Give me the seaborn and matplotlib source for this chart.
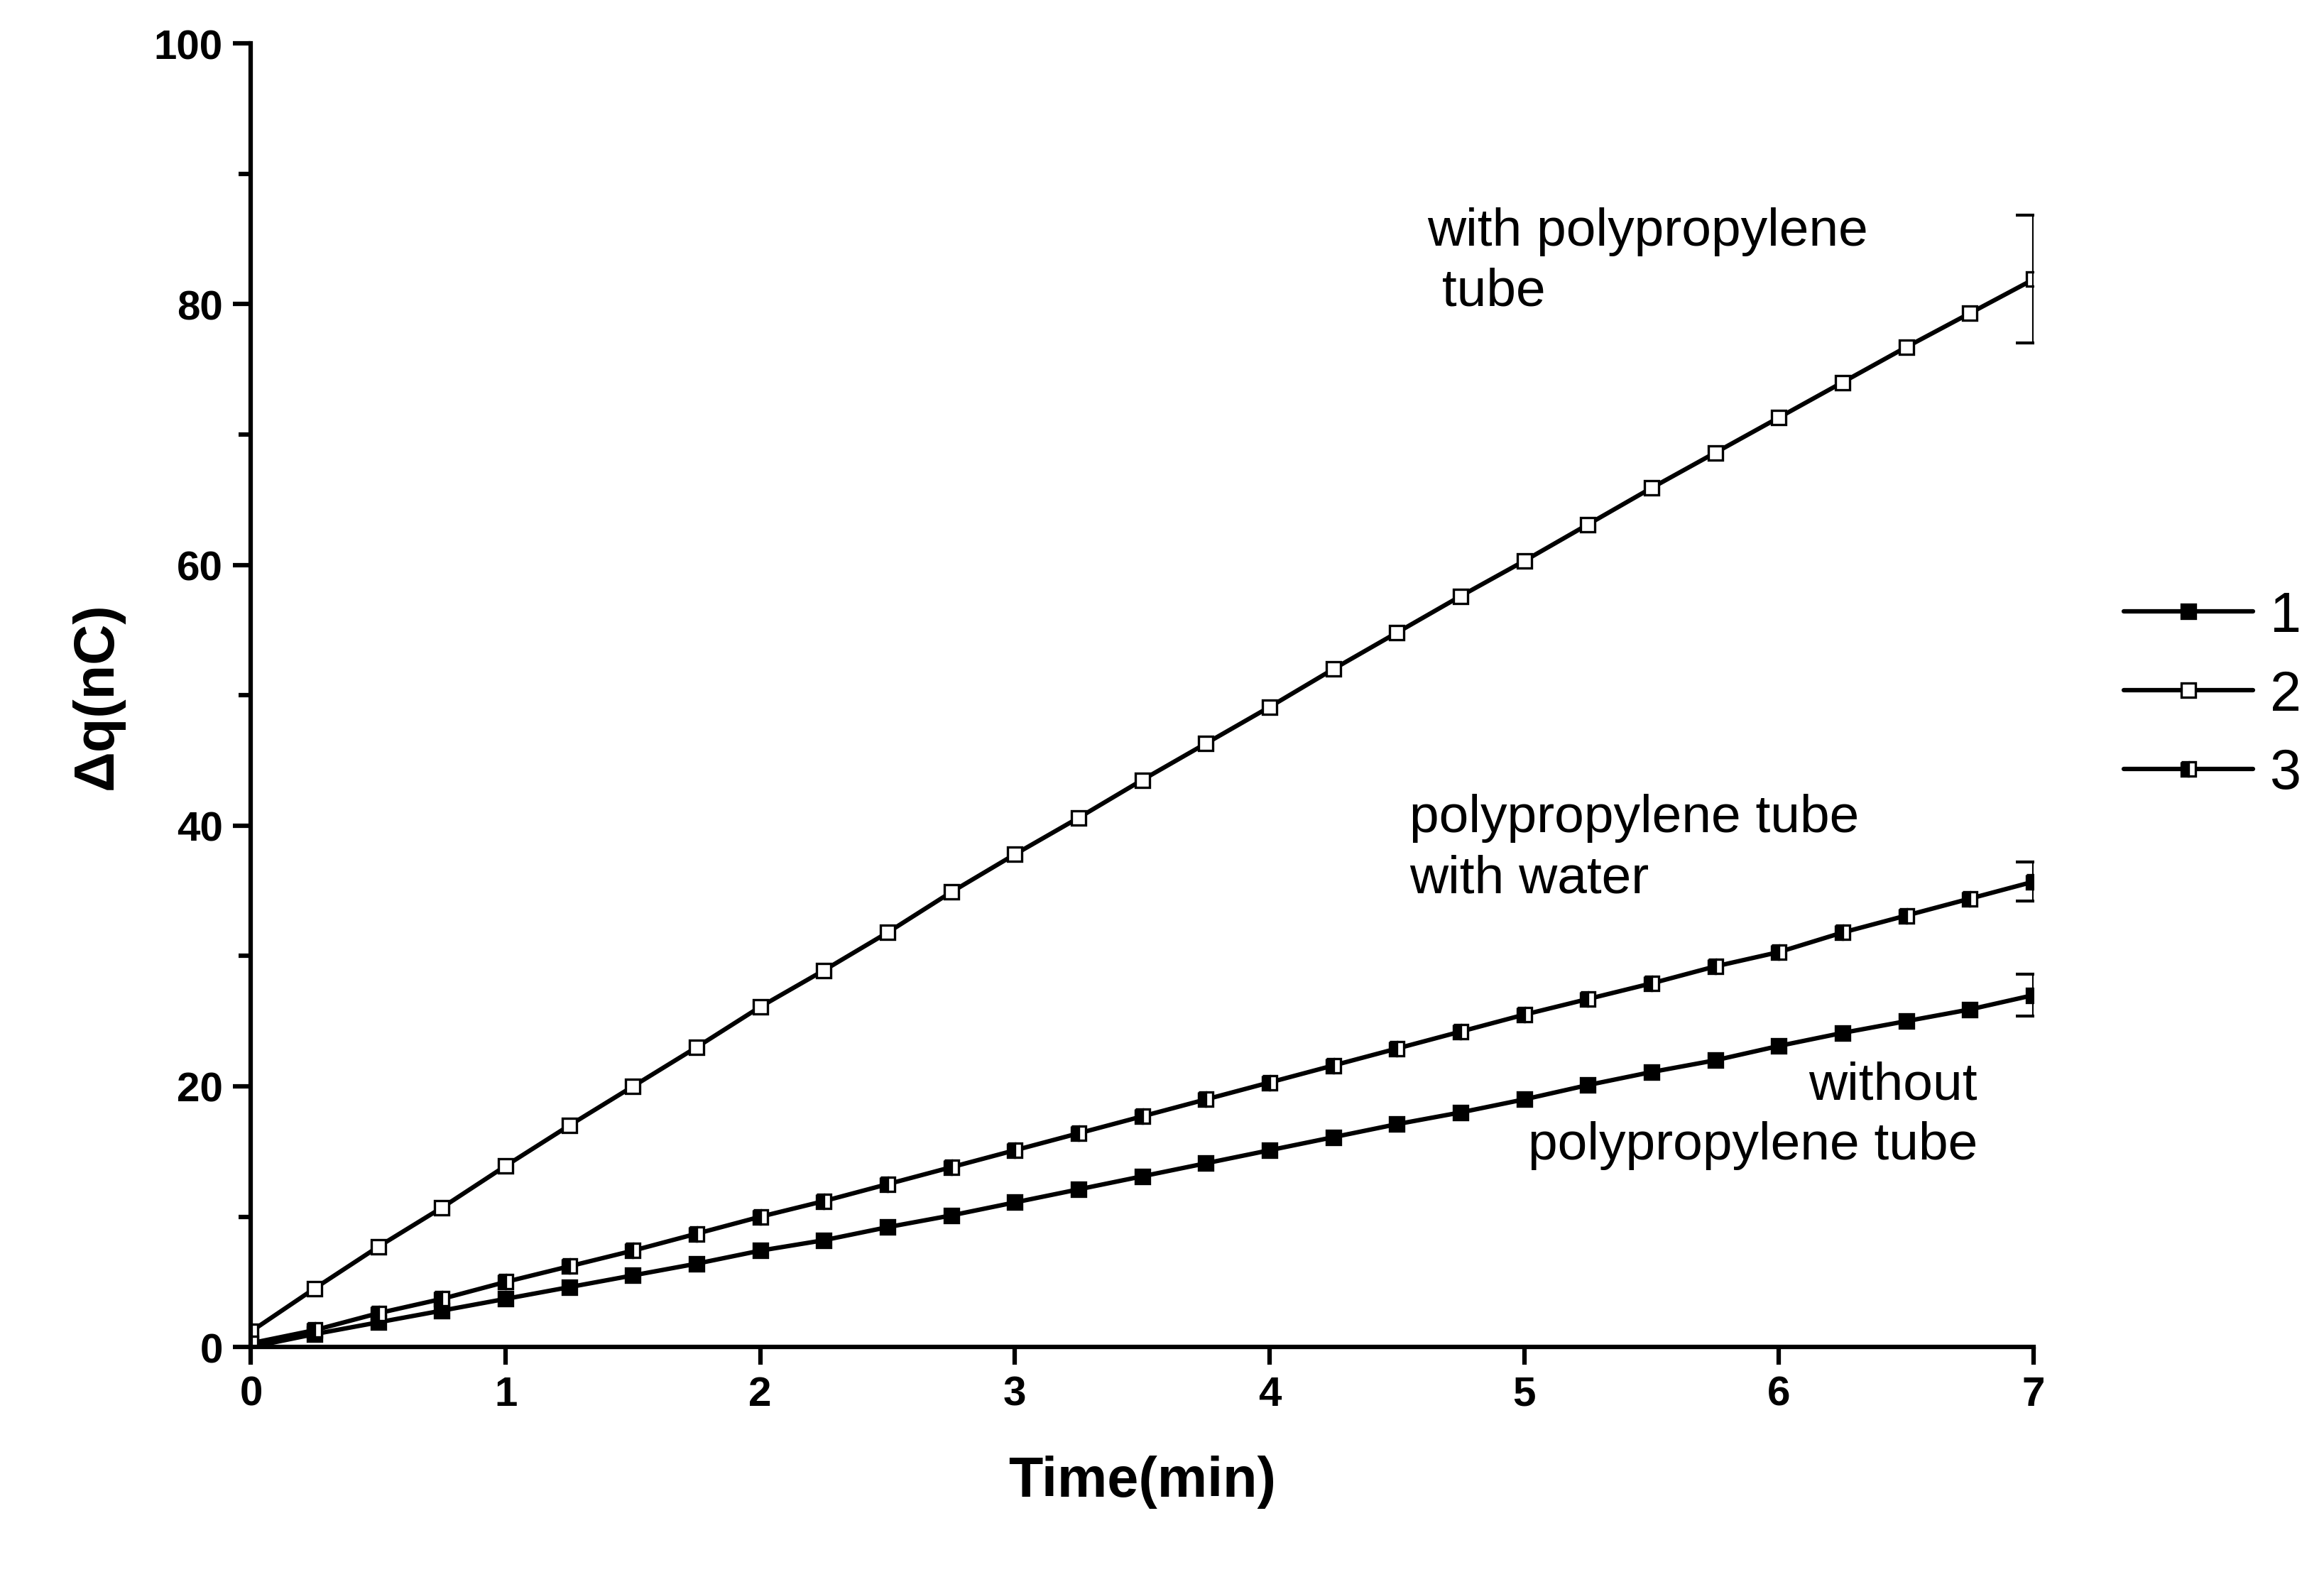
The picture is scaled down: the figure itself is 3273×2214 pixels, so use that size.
import numpy as np
import pandas as pd
import matplotlib
matplotlib.use("Agg")
import matplotlib.pyplot as plt
import seaborn as sns
from matplotlib.ticker import MultipleLocator

time_min = [i * 0.25 for i in range(29)]
s1 = [0, 1.0, 1.9, 2.8, 3.7, 4.6, 5.5, 6.4, 7.4, 8.2, 9.2, 10.1, 11.1, 12.1, 13.1,
      14.1, 15.1, 16.1, 17.1, 18.0, 19.0, 20.1, 21.1, 22.0, 23.1, 24.1, 25.0, 25.9, 27.0]
s2 = [1.2, 4.5, 7.7, 10.7, 13.9, 17.0, 20.0, 23.0, 26.1, 28.9, 31.8, 34.9, 37.8, 40.6, 43.5,
      46.3, 49.1, 52.0, 54.8, 57.6, 60.3, 63.1, 65.9, 68.6, 71.3, 74.0, 76.7, 79.3, 81.9]
s3 = [0.3, 1.3, 2.6, 3.7, 5.0, 6.2, 7.4, 8.7, 10.0, 11.2, 12.5, 13.8, 15.1, 16.4, 17.7,
      19.0, 20.3, 21.6, 22.9, 24.2, 25.5, 26.7, 27.9, 29.2, 30.3, 31.8, 33.1, 34.4, 35.7]
end_err = {"1": 1.6, "2": 4.9, "3": 1.5}

df = pd.DataFrame({"t": time_min * 3, "q": s1 + s2 + s3,
                   "series": ["1"] * 29 + ["2"] * 29 + ["3"] * 29})

sns.set_style("ticks")
plt.rcParams["font.family"] = ["Liberation Sans", "DejaVu Sans"]
plt.rcParams["text.color"] = "black"
plt.rcParams["axes.labelcolor"] = "black"
plt.rcParams["xtick.color"] = "black"
plt.rcParams["ytick.color"] = "black"
plt.rcParams["axes.edgecolor"] = "black"

fig = plt.figure(figsize=(10.91, 7.383), dpi=300)
ax = fig.add_axes([0.108, 0.143, 0.767, 0.829])

styles = {"1": dict(marker="s", mfc="black"),
          "2": dict(marker="s", mfc="white"),
          "3": dict(marker="s", mfc="black", fillstyle="left", mfcalt="white")}
for name, grp in df.groupby("series"):
    sns.lineplot(data=grp, x="t", y="q", ax=ax, color="black", lw=1.5, label=name,
                 mec="black", ms=5, mew=0.8, **styles[name])
    last = grp.iloc[-1]
    ax.errorbar(last["t"], last["q"], yerr=end_err[name], color="black", lw=1, capsize=6)

ax.set_xlim(0, 7)
ax.set_ylim(0, 100)
ax.xaxis.set_major_locator(MultipleLocator(1))
ax.yaxis.set_major_locator(MultipleLocator(20))
ax.yaxis.set_minor_locator(MultipleLocator(10))
ax.tick_params(width=1.5, length=6, labelsize=14)
ax.tick_params(which="minor", width=1.5, length=4)
for lbl in ax.get_xticklabels() + ax.get_yticklabels():
    lbl.set_fontweight("bold")
for sp in ["left", "bottom"]:
    ax.spines[sp].set_linewidth(1.5)
sns.despine(ax=ax)
ax.set_xlabel("Time(min)", fontsize=19, fontweight="bold", labelpad=14)
ax.set_ylabel("Δq(nC)", fontsize=19, fontweight="bold", labelpad=10)

ax.text(4.62, 87.5, "with polypropylene\n tube", fontsize=18, linespacing=1.3, va="top")
ax.text(4.55, 42.5, "polypropylene tube\nwith water", fontsize=18, linespacing=1.3, va="top")
ax.text(6.78, 22.0, "without\npolypropylene tube", fontsize=18, linespacing=1.3,
        va="top", ha="right", multialignment="right")

ax.legend(loc="center left", bbox_to_anchor=(1.035, 0.5), frameon=False, fontsize=19,
          handlelength=2.3, handletextpad=0.3, labelspacing=0.45, borderpad=0)

fig.savefig("out.png", dpi=300)
